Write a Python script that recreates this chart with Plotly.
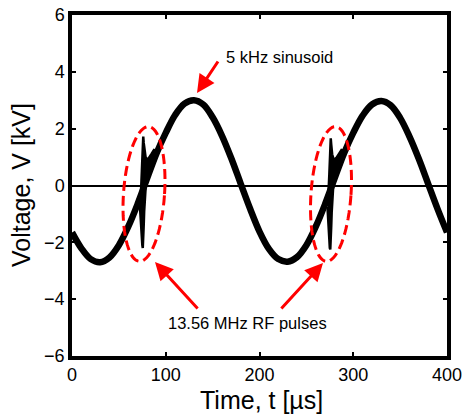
import math
import plotly.graph_objects as go

# ---- data ----
t_base = list(range(0, 401, 10))
v_base = [-1.65, -2.21, -2.59, -2.70, -2.53, -2.10, -1.45, -0.65, 0.24, 1.12,
          1.85, 2.48, 2.88, 3.00, 2.85, 2.40, 1.75, 0.95, 0.06, -0.82,
          -1.62, -2.23, -2.59, -2.68, -2.52, -2.10, -1.45, -0.65, 0.24, 1.12,
          1.85, 2.46, 2.85, 2.97, 2.82, 2.38, 1.72, 0.93, 0.05, -0.83, -1.65]

# RF burst envelopes (upper / lower), µs and kV
b1_t = [72.5, 73.5, 74.5, 75.0, 75.5, 76.0, 76.5, 77.0, 77.5, 78.5, 80.0, 82.0, 85.0, 88.0]
b1_hi = [-0.55, -0.3, 0.5, 1.1, 1.5, 1.72, 1.5, 1.3, 1.15, 1.0, 0.9, 0.97, 1.12, 1.28]
b1_lo = [-0.75, -1.2, -1.8, -2.1, -2.2, -1.9, -1.4, -0.9, -0.5, -0.1, 0.15, 0.4, 0.7, 1.0]

b2_t = [272.5, 273.5, 274.5, 275.0, 275.5, 276.0, 276.5, 277.0, 277.5, 278.5, 280.0, 282.0, 285.0, 288.0]
b2_hi = [-0.55, -0.3, 0.4, 1.0, 1.45, 1.66, 1.45, 1.25, 1.1, 0.98, 0.9, 0.97, 1.12, 1.28]
b2_lo = [-0.75, -1.25, -1.9, -2.2, -2.25, -1.95, -1.45, -0.95, -0.55, -0.1, 0.15, 0.4, 0.7, 1.0]

x_ticks = [0, 100, 200, 300, 400]
y_ticks = [-6, -4, -2, 0, 2, 4, 6]

# ---- layout geometry (pixels) ----
W, H = 464, 417
ML, MR, MT, MB = 72, 17, 15, 61
PW, PH = W - ML - MR, H - MT - MB
XR, YR = (0, 400), (-6, 6)
FONT = "Liberation Sans, Arial, sans-serif"


def px_to_data(px, py):
    x = XR[0] + (px - ML) / PW * (XR[1] - XR[0])
    y = YR[1] - (py - MT) / PH * (YR[1] - YR[0])
    return x, y


def px_to_paper(px, py):
    return (px - ML) / PW, 1 - (py - MT) / PH


def ellipse_path(cx, cy, a, b, phi_deg, n=72):
    phi = math.radians(phi_deg)
    pts = []
    for i in range(n + 1):
        th = 2 * math.pi * i / n
        ex, ey = a * math.cos(th), b * math.sin(th)
        px = cx + ex * math.cos(phi) - ey * math.sin(phi)
        py = cy + ex * math.sin(phi) + ey * math.cos(phi)
        pts.append(px_to_data(px, py))
    return "M " + " L ".join(f"{x:.3f},{y:.4f}" for x, y in pts) + " Z"


fig = go.Figure()

fig.add_trace(go.Scatter(x=t_base, y=v_base, mode="lines",
                         line=dict(color="black", width=6.5, shape="spline"),
                         hoverinfo="skip", showlegend=False))

for bt, bh, bl in [(b1_t, b1_hi, b1_lo), (b2_t, b2_hi, b2_lo)]:
    fig.add_trace(go.Scatter(x=bt + bt[::-1], y=bh + bl[::-1], mode="lines",
                             fill="toself", fillcolor="black",
                             line=dict(color="black", width=2.5),
                             hoverinfo="skip", showlegend=False))

red = "#FF0000"
shapes = [
    dict(type="path", xref="x", yref="y", path=ellipse_path(144, 194, 20.5, 67.5, 4),
         line=dict(color=red, width=3, dash="10px,5px")),
    dict(type="path", xref="x", yref="y", path=ellipse_path(331, 194, 20, 67.5, 4),
         line=dict(color=red, width=3, dash="10px,5px")),
]

ann = []
font = dict(family=FONT, size=16.5, color="black")
hx, hy = px_to_data(197, 93)
ann.append(dict(x=hx, y=hy, ax=22, ay=-33, showarrow=True, arrowhead=2, arrowsize=1.2,
                arrowwidth=3, arrowcolor=red, text=""))
tx, ty = px_to_data(279, 57)
ann.append(dict(x=tx, y=ty, text="5 kHz sinusoid", showarrow=False, font=font))
hx, hy = px_to_data(155, 262)
ann.append(dict(x=hx, y=hy, ax=44, ay=48, showarrow=True, arrowhead=2, arrowsize=1.2,
                arrowwidth=3, arrowcolor=red, text=""))
hx, hy = px_to_data(323, 263)
ann.append(dict(x=hx, y=hy, ax=-43, ay=47, showarrow=True, arrowhead=2, arrowsize=1.2,
                arrowwidth=3, arrowcolor=red, text=""))
tx, ty = px_to_data(247, 323)
ann.append(dict(x=tx, y=ty, text="13.56 MHz RF pulses", showarrow=False, font=font))

# axis titles placed as annotations
title_font = dict(family=FONT, size=25, color="black")
px_, py_ = px_to_paper(261, 400)
ann.append(dict(x=px_, y=py_, xref="paper", yref="paper", text="Time, t [µs]",
                showarrow=False, font=title_font, xanchor="center", yanchor="middle"))
px_, py_ = px_to_paper(21, 185)
ann.append(dict(x=px_, y=py_, xref="paper", yref="paper", text="Voltage, V [kV]",
                showarrow=False, font=title_font, textangle=-90,
                xanchor="center", yanchor="middle"))

axis_common = dict(showgrid=False, showline=True, linecolor="black", linewidth=3.5,
                   mirror="allticks", ticks="inside", ticklen=4, tickwidth=1.5,
                   tickcolor="black", automargin=False,
                   tickfont=dict(family=FONT, size=18, color="black"))

fig.update_layout(
    width=W, height=H,
    margin=dict(l=ML, r=MR, t=MT, b=MB),
    paper_bgcolor="white", plot_bgcolor="white",
    xaxis=dict(range=list(XR), tickvals=x_ticks, zeroline=False, **axis_common),
    yaxis=dict(range=list(YR), tickvals=y_ticks, zeroline=True, zerolinecolor="black",
               zerolinewidth=1.8, **axis_common),
    shapes=shapes, annotations=ann,
)

fig.write_html("out.html", config={"displayModeBar": False})

# remove the browser's default page margin so the figure sits at the window origin
with open("out.html", "r", encoding="utf-8") as f:
    html = f.read()
html = html.replace("<head>", "<head><style>html,body{margin:0;padding:0;overflow:hidden;}</style>", 1)
with open("out.html", "w", encoding="utf-8") as f:
    f.write(html)
